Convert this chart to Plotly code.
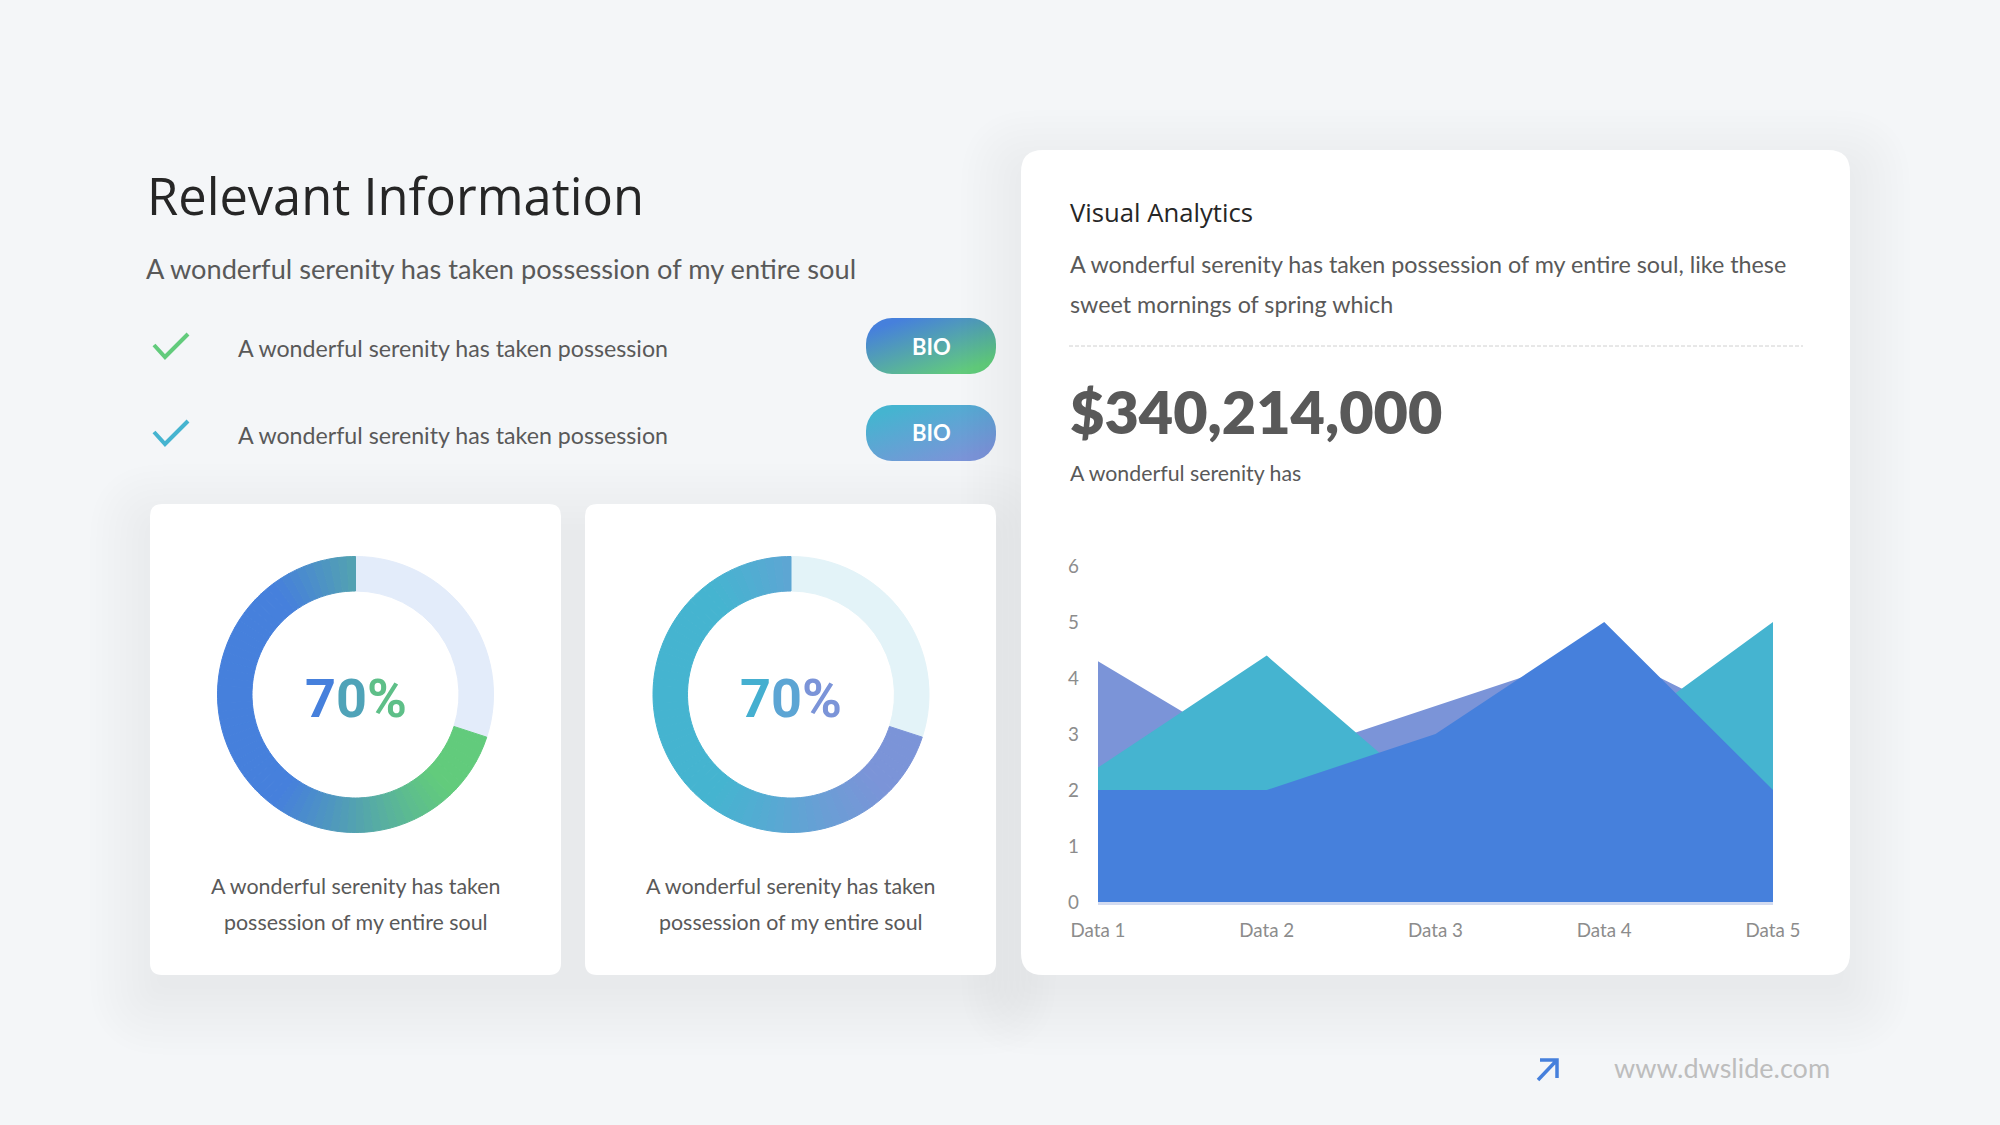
import base64
import math
import plotly.graph_objects as go

W, H = 2000, 1125

# chart data
categories = ["Data 1", "Data 2", "Data 3", "Data 4", "Data 5"]
series_back = [4.3, 2.5, 3.5, 4.5, 3.0]
series_mid = [2.4, 4.4, 1.8, 2.8, 5.0]
series_front = [2, 2, 3, 5, 2]
y_ticks = [0, 1, 2, 3, 4, 5, 6]
donut_share = 70
donut_rest = 30
list_items = ["A wonderful serenity has taken possession", "A wonderful serenity has taken possession"]

BG = "#F4F6F8"
TXT = "#595959"
BLUE = "#4680DC"
TEAL = "#45B4D0"
PERI = "#7B94D8"
GREEN = "#62CB7C"
BODY_FONT = "Lato"


def px(x):
    return x / W


def py(y):
    return 1 - y / H


def rr_path(x0, y0, x1, y1, r):
    return (f"M{px(x0 + r)},{py(y0)} L{px(x1 - r)},{py(y0)} "
            f"Q{px(x1)},{py(y0)} {px(x1)},{py(y0 + r)} L{px(x1)},{py(y1 - r)} "
            f"Q{px(x1)},{py(y1)} {px(x1 - r)},{py(y1)} L{px(x0 + r)},{py(y1)} "
            f"Q{px(x0)},{py(y1)} {px(x0)},{py(y1 - r)} L{px(x0)},{py(y0 + r)} "
            f"Q{px(x0)},{py(y0)} {px(x0 + r)},{py(y0)} Z")


def mix(c1, c2, t):
    a = [int(c1[i:i + 2], 16) for i in (1, 3, 5)]
    b = [int(c2[i:i + 2], 16) for i in (1, 3, 5)]
    return "rgb({},{},{})".format(*[round(a[i] + (b[i] - a[i]) * t) for i in range(3)])


def pill_image(c1, c2):
    svg = (f'<svg xmlns="http://www.w3.org/2000/svg" width="130" height="56">'
           f'<defs><linearGradient id="g" x1="0.1" y1="0" x2="0.9" y2="1">'
           f'<stop offset="0.1" stop-color="{c1}"/><stop offset="0.9" stop-color="{c2}"/>'
           f'</linearGradient></defs><rect width="130" height="56" rx="26" fill="url(#g)"/></svg>')
    return "data:image/svg+xml;base64," + base64.b64encode(svg.encode()).decode()


fig = go.Figure()

# area chart, back to front
x_dom = [1098 / W, 1773 / W]
y_dom = [py(902), py(566)]
for vals, color in [(series_back, PERI), (series_mid, TEAL), (series_front, BLUE)]:
    fig.add_trace(go.Scatter(x=categories, y=vals, mode="lines", fill="tozeroy", fillcolor=color,
                             line=dict(width=0, color=color), hoverinfo="skip", showlegend=False))

fig.update_xaxes(domain=x_dom, range=[0, 4], automargin=False, showgrid=False, zeroline=False,
                 showline=True, linecolor="#D3DBF0", linewidth=3, ticks="", ticklabelstandoff=9,
                 tickfont=dict(family=BODY_FONT, size=18.8, color="#8C8C8C"))
fig.update_yaxes(domain=y_dom, range=[0, 6], automargin=False, tickvals=y_ticks, showgrid=False,
                 zeroline=False, showline=False, ticks="", ticklabelstandoff=18,
                 tickfont=dict(family=BODY_FONT, size=18.8, color="#8C8C8C"))


# donuts drawn as pies, the filled part cut in small slices for the gradient
def add_donut(cx, c1, c2, track):
    r = 138
    cy = 694.5
    n = donut_share
    vals = [donut_rest] + [donut_share / n] * n
    colors = [track]
    for i in range(n):
        ang = math.radians((donut_rest + (i + 0.5) / n * donut_share) * 3.6)
        pos = 0.5 + 0.5 * math.sin(ang)
        t = min(max((pos - 0.2) / 0.65, 0), 1)
        colors.append(mix(c1, c2, t))
    fig.add_trace(go.Pie(values=vals, sort=False, direction="clockwise", rotation=0, hole=103.5 / r,
                         textinfo="none", hoverinfo="skip", showlegend=False,
                         domain=dict(x=[px(cx - r), px(cx + r)], y=[py(cy + r), py(cy - r)]),
                         marker=dict(colors=colors, line=dict(color=colors, width=1))))


add_donut(355.5, BLUE, GREEN, "#E3ECFA")
add_donut(791, TEAL, PERI, "#E3F3F8")

shapes = []
# soft shadows, the two small cards share one
for box in [(150, 504, 996, 975), (1021, 150, 1850, 975)]:
    for i in range(12):
        e = i * 6 - 6
        shapes.append(dict(type="path", xref="paper", yref="paper", layer="below",
                           path=rr_path(box[0] - e, box[1] - e + 20, box[2] + e, box[3] + e + 20, 14 + max(e, 0)),
                           fillcolor="rgba(70,80,100,0.0025)", line=dict(width=0)))
# cards
for box, r in [((150, 504, 561, 975), 12), ((585, 504, 996, 975), 12), ((1021, 150, 1850, 975), 22)]:
    shapes.append(dict(type="path", xref="paper", yref="paper", layer="below",
                       path=rr_path(box[0], box[1], box[2], box[3], r),
                       fillcolor="#FFFFFF", line=dict(width=0)))
# dashed divider
shapes.append(dict(type="line", xref="paper", yref="paper", layer="below", x0=px(1069), x1=px(1803),
                   y0=py(346), y1=py(346), line=dict(color="#D0D0D0", width=1, dash="4px,2px")))
# check marks
for y_off, color in [(0, GREEN), (87, TEAL)]:
    shapes.append(dict(type="path", xref="paper", yref="paper", layer="below",
                       path=f"M{px(154)},{py(345 + y_off)} L{px(165)},{py(357 + y_off)} L{px(188)},{py(334 + y_off)}",
                       line=dict(color=color, width=4)))
# footer arrow
shapes.append(dict(type="path", xref="paper", yref="paper", layer="below",
                   path=f"M{px(1538)},{py(1080)} L{px(1557)},{py(1060)} M{px(1540)},{py(1060)} L{px(1557)},{py(1060)} L{px(1557)},{py(1078)}",
                   line=dict(color=BLUE, width=3.5)))


def label(x, y, text, size, color=TXT, family=BODY_FONT, anchor="left", weight=None):
    font = dict(family=family, size=size, color=color)
    if weight:
        font["weight"] = weight
    return dict(xref="paper", yref="paper", x=px(x), y=py(y), text=text, showarrow=False,
                xanchor=anchor, yanchor="middle", font=font, borderpad=0)


def pct_text(c1, c2, c3):
    return (f"<span style='color:{c1}'>{donut_share // 10}</span>"
            f"<span style='color:{c2}'>{donut_share % 10}</span>"
            f"<span style='color:{c3}'>%</span>")


caption1 = "A wonderful serenity has taken"
caption2 = "possession of my entire soul"
annotations = [
    label(146, 195.5, "Relevant Information", 50.6, "#262626", "Open Sans"),
    label(145, 269, "A wonderful serenity has taken possession of my entire soul", 27.2),
    label(237, 348, list_items[0], 23.2),
    label(237, 434.5, list_items[1], 23.2),
    label(931, 346, "BIO", 22, "#FFFFFF", anchor="center", weight=700),
    label(931, 433, "BIO", 22, "#FFFFFF", anchor="center", weight=700),
    label(355.5, 698, pct_text(BLUE, "#4FA3B8", "#5EBF88"), 54, family="Roboto", anchor="center", weight=700),
    label(791, 698, pct_text("#45AFD0", "#5CA5D4", PERI), 54, family="Roboto", anchor="center", weight=700),
    label(355.5, 886, caption1, 21.4, anchor="center"),
    label(355.5, 922, caption2, 21.4, anchor="center"),
    label(791, 886, caption1, 21.4, anchor="center"),
    label(791, 922, caption2, 21.4, anchor="center"),
    label(1069, 212.5, "Visual Analytics", 25.7, "#262626", "Open Sans"),
    label(1069, 264.5, "A wonderful serenity has taken possession of my entire soul, like these", 23.3),
    label(1069, 303.5, "sweet mornings of spring which", 23.3),
    label(1069, 411, "$340,214,000", 59.3, family=BODY_FONT, weight=800),
    label(1069, 473, "A wonderful serenity has", 21.3),
    label(1613, 1067, "www.dwslide.com", 27, "#BDBDBD", "Lato"),
]

images = [
    dict(source=pill_image(BLUE, GREEN), xref="paper", yref="paper", x=px(866), y=py(318),
         sizex=130 / W, sizey=56 / H, sizing="stretch", xanchor="left", yanchor="top", layer="below"),
    dict(source=pill_image(TEAL, PERI), xref="paper", yref="paper", x=px(866), y=py(405),
         sizex=130 / W, sizey=56 / H, sizing="stretch", xanchor="left", yanchor="top", layer="below"),
]

fig.update_layout(width=W, height=H, margin=dict(l=0, r=0, t=0, b=0), autosize=False,
                  paper_bgcolor=BG, plot_bgcolor="rgba(0,0,0,0)", shapes=shapes,
                  annotations=annotations, images=images)

fig.write_html("out.html", config=dict(displayModeBar=False),
               post_script="document.body.style.margin='0';document.body.style.overflow='hidden';")
